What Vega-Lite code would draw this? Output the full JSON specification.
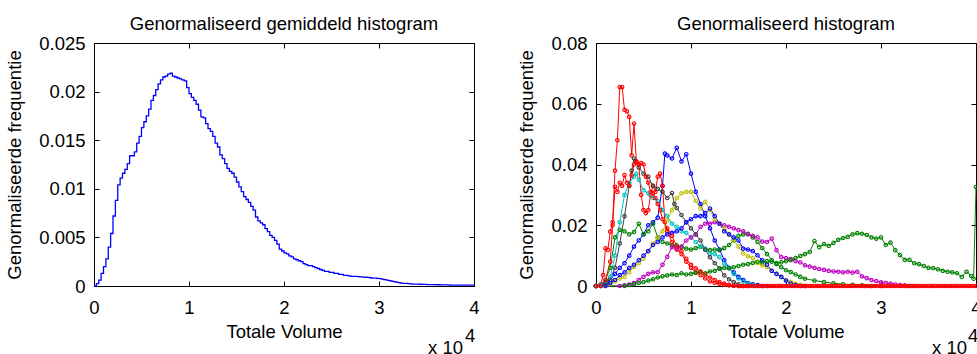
{
"$schema": "https://vega.github.io/schema/vega-lite/v6.json",
"background": "white",
"padding": {"left": 5, "top": 14, "right": 0, "bottom": 0},
"spacing": 37,
"config": {
  "font": "Liberation Sans",
  "view": {"stroke": null},
  "axis": {"labelFont": "Liberation Sans", "labelFontSize": 18.5, "labelColor": "black", "titleFont": "Liberation Sans", "titleFontSize": 18.5, "titleFontWeight": "normal", "titleColor": "black", "domainColor": "black", "domainWidth": 1, "tickColor": "black", "tickWidth": 1, "tickSize": -5, "grid": false, "labelOverlap": false, "labelFlush": false},
  "axisX": {"labelPadding": 17, "titlePadding": 6},
  "axisY": {"labelPadding": 14, "titlePadding": 14},
  "title": {"font": "Liberation Sans", "fontSize": 18.5, "fontWeight": "normal", "color": "black", "offset": 1},
  "text": {"font": "Liberation Sans", "fontSize": 18.5, "color": "black"}
},
"datasets": {
"avg": [
{"x":0,"y":0},{"x":0.025,"y":0.00024},{"x":0.05,"y":0.0006},{"x":0.075,"y":0.0013},{"x":0.1,"y":0.002},{"x":0.125,"y":0.0028},{"x":0.15,"y":0.004},{"x":0.175,"y":0.0054},{"x":0.2,"y":0.0072},{"x":0.225,"y":0.0088},
{"x":0.25,"y":0.0104},{"x":0.275,"y":0.0111},{"x":0.3,"y":0.0116},{"x":0.325,"y":0.012},{"x":0.35,"y":0.0126},{"x":0.375,"y":0.0134},{"x":0.4,"y":0.0134},{"x":0.425,"y":0.0138},{"x":0.45,"y":0.0147},{"x":0.475,"y":0.0154},
{"x":0.5,"y":0.0163},{"x":0.525,"y":0.0169},{"x":0.55,"y":0.0175},{"x":0.575,"y":0.0182},{"x":0.6,"y":0.0191},{"x":0.625,"y":0.0196},{"x":0.65,"y":0.0202},{"x":0.675,"y":0.0208},{"x":0.7,"y":0.0212},{"x":0.725,"y":0.0215},
{"x":0.75,"y":0.0216},{"x":0.775,"y":0.0218},{"x":0.8,"y":0.0219},{"x":0.825,"y":0.0216},{"x":0.85,"y":0.0215},{"x":0.875,"y":0.0214},{"x":0.9,"y":0.0213},{"x":0.925,"y":0.0212},{"x":0.95,"y":0.0211},{"x":0.975,"y":0.0204},
{"x":1.0,"y":0.0198},{"x":1.025,"y":0.0194},{"x":1.05,"y":0.0191},{"x":1.075,"y":0.0187},{"x":1.1,"y":0.0181},{"x":1.125,"y":0.0174},{"x":1.15,"y":0.0173},{"x":1.175,"y":0.0167},{"x":1.2,"y":0.0162},{"x":1.225,"y":0.0159},
{"x":1.25,"y":0.0154},{"x":1.275,"y":0.0147},{"x":1.3,"y":0.0143},{"x":1.325,"y":0.0135},{"x":1.35,"y":0.0131},{"x":1.375,"y":0.0126},{"x":1.4,"y":0.0121},{"x":1.425,"y":0.0118},{"x":1.45,"y":0.0116},{"x":1.475,"y":0.0112},
{"x":1.5,"y":0.0107},{"x":1.525,"y":0.0102},{"x":1.55,"y":0.0097},{"x":1.575,"y":0.0092},{"x":1.6,"y":0.0089},{"x":1.625,"y":0.0086},{"x":1.65,"y":0.0082},{"x":1.675,"y":0.0078},{"x":1.7,"y":0.0071},{"x":1.725,"y":0.0067},
{"x":1.75,"y":0.0065},{"x":1.775,"y":0.0063},{"x":1.8,"y":0.0059},{"x":1.825,"y":0.0056},{"x":1.85,"y":0.0052},{"x":1.875,"y":0.005},{"x":1.9,"y":0.0047},{"x":1.925,"y":0.0043},{"x":1.95,"y":0.0038},{"x":1.975,"y":0.0036},
{"x":2.0,"y":0.0034},{"x":2.025,"y":0.0033},{"x":2.05,"y":0.0031},{"x":2.075,"y":0.003},{"x":2.1,"y":0.0028},{"x":2.125,"y":0.0027},{"x":2.15,"y":0.0026},{"x":2.175,"y":0.0025},{"x":2.2,"y":0.0023},{"x":2.225,"y":0.0022},
{"x":2.25,"y":0.0021},{"x":2.275,"y":0.0021},{"x":2.3,"y":0.002},{"x":2.325,"y":0.0019},{"x":2.35,"y":0.0018},{"x":2.375,"y":0.0017},{"x":2.4,"y":0.0016},{"x":2.425,"y":0.0015},{"x":2.45,"y":0.0015},{"x":2.475,"y":0.0014},
{"x":2.5,"y":0.0014},{"x":2.525,"y":0.0013},{"x":2.55,"y":0.0013},{"x":2.575,"y":0.0012},{"x":2.6,"y":0.0012},{"x":2.625,"y":0.0011},{"x":2.65,"y":0.0011},{"x":2.675,"y":0.00105},{"x":2.7,"y":0.001},{"x":2.725,"y":0.001},
{"x":2.75,"y":0.00098},{"x":2.775,"y":0.00096},{"x":2.8,"y":0.00094},{"x":2.825,"y":0.00092},{"x":2.85,"y":0.0009},{"x":2.875,"y":0.00088},{"x":2.9,"y":0.00085},{"x":2.925,"y":0.00082},{"x":2.95,"y":0.0008},{"x":2.975,"y":0.00078},
{"x":3.0,"y":0.00076},{"x":3.025,"y":0.0007},{"x":3.05,"y":0.00065},{"x":3.075,"y":0.0006},{"x":3.1,"y":0.00055},{"x":3.125,"y":0.0005},{"x":3.15,"y":0.00045},{"x":3.175,"y":0.0004},{"x":3.2,"y":0.00035},{"x":3.225,"y":0.0003},
{"x":3.25,"y":0.00028},{"x":3.275,"y":0.00026},{"x":3.3,"y":0.00024},{"x":3.325,"y":0.00022},{"x":3.35,"y":0.0002},{"x":3.375,"y":0.0002},{"x":3.4,"y":0.00019},{"x":3.425,"y":0.00018},{"x":3.45,"y":0.00017},{"x":3.475,"y":0.00016},
{"x":3.5,"y":0.00015},{"x":3.55,"y":0.00014},{"x":3.6,"y":0.00013},{"x":3.65,"y":0.00012},{"x":3.7,"y":0.00011},{"x":3.75,"y":0.0001},{"x":3.8,"y":0.00009},{"x":3.85,"y":0.00009},{"x":3.9,"y":0.00008},{"x":3.95,"y":0.00008},{"x":4.0,"y":0.00007}
],
"ind": [
{"s":"b1","x":0,"y":0},{"s":"b1","x":0.05,"y":0},{"s":"b1","x":0.1,"y":0.001},{"s":"b1","x":0.15,"y":0.002},{"s":"b1","x":0.2,"y":0.004},{"s":"b1","x":0.25,"y":0.006},{"s":"b1","x":0.3,"y":0.0075},{"s":"b1","x":0.35,"y":0.01},{"s":"b1","x":0.4,"y":0.013},{"s":"b1","x":0.45,"y":0.015},
{"s":"b1","x":0.5,"y":0.017},{"s":"b1","x":0.55,"y":0.02},{"s":"b1","x":0.6,"y":0.021},{"s":"b1","x":0.65,"y":0.0225},{"s":"b1","x":0.7,"y":0.033},{"s":"b1","x":0.725,"y":0.0436},{"s":"b1","x":0.75,"y":0.043},{"s":"b1","x":0.8,"y":0.042},{"s":"b1","x":0.85,"y":0.0455},{"s":"b1","x":0.9,"y":0.041},
{"s":"b1","x":0.95,"y":0.0434},{"s":"b1","x":1.0,"y":0.037},{"s":"b1","x":1.05,"y":0.031},{"s":"b1","x":1.1,"y":0.027},{"s":"b1","x":1.15,"y":0.023},{"s":"b1","x":1.2,"y":0.019},{"s":"b1","x":1.25,"y":0.015},{"s":"b1","x":1.3,"y":0.012},{"s":"b1","x":1.35,"y":0.0085},{"s":"b1","x":1.4,"y":0.006},
{"s":"b1","x":1.45,"y":0.0045},{"s":"b1","x":1.5,"y":0.003},{"s":"b1","x":1.55,"y":0.002},{"s":"b1","x":1.6,"y":0.001},{"s":"b1","x":1.65,"y":0.0006},{"s":"b1","x":1.7,"y":0.0003},{"s":"b1","x":1.75,"y":0},{"s":"b1","x":1.8,"y":0},

{"s":"g1","x":0,"y":0},{"s":"g1","x":0.05,"y":0.0005},{"s":"g1","x":0.1,"y":0.002},{"s":"g1","x":0.15,"y":0.006},{"s":"g1","x":0.2,"y":0.016},{"s":"g1","x":0.25,"y":0.0185},{"s":"g1","x":0.3,"y":0.018},{"s":"g1","x":0.35,"y":0.017},{"s":"g1","x":0.4,"y":0.0178},{"s":"g1","x":0.45,"y":0.0205},
{"s":"g1","x":0.5,"y":0.017},{"s":"g1","x":0.55,"y":0.018},{"s":"g1","x":0.6,"y":0.0205},{"s":"g1","x":0.65,"y":0.016},{"s":"g1","x":0.7,"y":0.0145},{"s":"g1","x":0.75,"y":0.014},{"s":"g1","x":0.8,"y":0.0135},{"s":"g1","x":0.85,"y":0.0134},{"s":"g1","x":0.9,"y":0.0128},{"s":"g1","x":0.95,"y":0.0123},
{"s":"g1","x":1.0,"y":0.012},{"s":"g1","x":1.05,"y":0.0125},{"s":"g1","x":1.1,"y":0.0129},{"s":"g1","x":1.15,"y":0.012},{"s":"g1","x":1.2,"y":0.0118},{"s":"g1","x":1.25,"y":0.012},{"s":"g1","x":1.3,"y":0.0118},{"s":"g1","x":1.35,"y":0.0125},{"s":"g1","x":1.4,"y":0.0135},{"s":"g1","x":1.45,"y":0.015},
{"s":"g1","x":1.5,"y":0.0165},{"s":"g1","x":1.55,"y":0.017},{"s":"g1","x":1.6,"y":0.0172},{"s":"g1","x":1.65,"y":0.016},{"s":"g1","x":1.7,"y":0.0145},{"s":"g1","x":1.75,"y":0.0125},{"s":"g1","x":1.8,"y":0.0105},{"s":"g1","x":1.85,"y":0.0085},{"s":"g1","x":1.9,"y":0.0072},{"s":"g1","x":1.95,"y":0.0062},
{"s":"g1","x":2.0,"y":0.0052},{"s":"g1","x":2.05,"y":0.0046},{"s":"g1","x":2.1,"y":0.0038},{"s":"g1","x":2.15,"y":0.003},{"s":"g1","x":2.2,"y":0.0024},{"s":"g1","x":2.3,"y":0.0018},{"s":"g1","x":2.4,"y":0.0013},{"s":"g1","x":2.5,"y":0.0009},{"s":"g1","x":2.6,"y":0.0006},{"s":"g1","x":2.7,"y":0.0004},
{"s":"g1","x":2.8,"y":0.0002},{"s":"g1","x":2.9,"y":0},{"s":"g1","x":3.0,"y":0},

{"s":"r1","x":0,"y":0},{"s":"r1","x":0.05,"y":0.0005},{"s":"r1","x":0.075,"y":0.0036},{"s":"r1","x":0.1,"y":0.0124},{"s":"r1","x":0.125,"y":0.0119},{"s":"r1","x":0.15,"y":0.0179},{"s":"r1","x":0.175,"y":0.021},{"s":"r1","x":0.2,"y":0.038},{"s":"r1","x":0.225,"y":0.048},{"s":"r1","x":0.25,"y":0.0655},
{"s":"r1","x":0.275,"y":0.0655},{"s":"r1","x":0.3,"y":0.058},{"s":"r1","x":0.325,"y":0.0575},{"s":"r1","x":0.35,"y":0.0557},{"s":"r1","x":0.375,"y":0.043},{"s":"r1","x":0.4,"y":0.0535},{"s":"r1","x":0.425,"y":0.041},{"s":"r1","x":0.45,"y":0.04},{"s":"r1","x":0.475,"y":0.03},{"s":"r1","x":0.5,"y":0.025},
{"s":"r1","x":0.525,"y":0.024},{"s":"r1","x":0.55,"y":0.025},{"s":"r1","x":0.575,"y":0.03},{"s":"r1","x":0.6,"y":0.033},{"s":"r1","x":0.625,"y":0.031},{"s":"r1","x":0.65,"y":0.036},{"s":"r1","x":0.675,"y":0.037},{"s":"r1","x":0.7,"y":0.033},{"s":"r1","x":0.725,"y":0.021},{"s":"r1","x":0.75,"y":0.018},
{"s":"r1","x":0.8,"y":0.0145},{"s":"r1","x":0.85,"y":0.012},{"s":"r1","x":0.9,"y":0.0105},{"s":"r1","x":0.95,"y":0.008},{"s":"r1","x":1.0,"y":0.006},{"s":"r1","x":1.05,"y":0.0045},{"s":"r1","x":1.1,"y":0.0036},{"s":"r1","x":1.15,"y":0.0025},{"s":"r1","x":1.2,"y":0.0015},{"s":"r1","x":1.25,"y":0.001},
{"s":"r1","x":1.3,"y":0.0007},{"s":"r1","x":1.35,"y":0.0004},{"s":"r1","x":1.4,"y":0.0002},{"s":"r1","x":1.45,"y":0},{"s":"r1","x":1.5,"y":0},

{"s":"c","x":0,"y":0},{"s":"c","x":0.05,"y":0.0003},{"s":"c","x":0.1,"y":0.0015},{"s":"c","x":0.15,"y":0.003},{"s":"c","x":0.2,"y":0.01},{"s":"c","x":0.25,"y":0.021},{"s":"c","x":0.3,"y":0.03},{"s":"c","x":0.35,"y":0.034},{"s":"c","x":0.4,"y":0.036},{"s":"c","x":0.425,"y":0.037},
{"s":"c","x":0.45,"y":0.035},{"s":"c","x":0.5,"y":0.0315},{"s":"c","x":0.55,"y":0.0305},{"s":"c","x":0.6,"y":0.029},{"s":"c","x":0.65,"y":0.028},{"s":"c","x":0.7,"y":0.025},{"s":"c","x":0.75,"y":0.023},{"s":"c","x":0.8,"y":0.0205},{"s":"c","x":0.85,"y":0.0195},{"s":"c","x":0.9,"y":0.018},
{"s":"c","x":0.95,"y":0.0175},{"s":"c","x":1.0,"y":0.016},{"s":"c","x":1.05,"y":0.0145},{"s":"c","x":1.1,"y":0.013},{"s":"c","x":1.15,"y":0.0123},{"s":"c","x":1.2,"y":0.0107},{"s":"c","x":1.25,"y":0.0105},{"s":"c","x":1.3,"y":0.0095},{"s":"c","x":1.35,"y":0.0074},{"s":"c","x":1.4,"y":0.006},
{"s":"c","x":1.45,"y":0.004},{"s":"c","x":1.5,"y":0.0025},{"s":"c","x":1.55,"y":0.0015},{"s":"c","x":1.6,"y":0.0008},{"s":"c","x":1.65,"y":0.0003},{"s":"c","x":1.7,"y":0},{"s":"c","x":1.75,"y":0},

{"s":"m","x":0,"y":0},{"s":"m","x":0.25,"y":0},{"s":"m","x":0.3,"y":0.0002},{"s":"m","x":0.35,"y":0.0005},{"s":"m","x":0.4,"y":0.001},{"s":"m","x":0.45,"y":0.002},{"s":"m","x":0.5,"y":0.003},{"s":"m","x":0.55,"y":0.004},{"s":"m","x":0.6,"y":0.0045},{"s":"m","x":0.65,"y":0.0046},
{"s":"m","x":0.7,"y":0.007},{"s":"m","x":0.75,"y":0.0096},{"s":"m","x":0.8,"y":0.0128},{"s":"m","x":0.85,"y":0.0123},{"s":"m","x":0.9,"y":0.013},{"s":"m","x":0.95,"y":0.015},{"s":"m","x":1.0,"y":0.016},{"s":"m","x":1.05,"y":0.017},{"s":"m","x":1.1,"y":0.0195},{"s":"m","x":1.15,"y":0.0205},
{"s":"m","x":1.2,"y":0.0205},{"s":"m","x":1.25,"y":0.021},{"s":"m","x":1.3,"y":0.0205},{"s":"m","x":1.35,"y":0.02},{"s":"m","x":1.4,"y":0.0195},{"s":"m","x":1.45,"y":0.019},{"s":"m","x":1.5,"y":0.0184},{"s":"m","x":1.55,"y":0.018},{"s":"m","x":1.6,"y":0.017},{"s":"m","x":1.65,"y":0.0165},
{"s":"m","x":1.7,"y":0.016},{"s":"m","x":1.75,"y":0.0146},{"s":"m","x":1.8,"y":0.0145},{"s":"m","x":1.85,"y":0.0156},{"s":"m","x":1.9,"y":0.0118},{"s":"m","x":1.95,"y":0.0095},{"s":"m","x":2.0,"y":0.0092},{"s":"m","x":2.05,"y":0.0089},{"s":"m","x":2.1,"y":0.0082},{"s":"m","x":2.15,"y":0.0078},
{"s":"m","x":2.2,"y":0.0068},{"s":"m","x":2.25,"y":0.0064},{"s":"m","x":2.3,"y":0.006},{"s":"m","x":2.35,"y":0.0056},{"s":"m","x":2.4,"y":0.0053},{"s":"m","x":2.45,"y":0.005},{"s":"m","x":2.5,"y":0.0048},{"s":"m","x":2.55,"y":0.0047},{"s":"m","x":2.6,"y":0.0045},{"s":"m","x":2.65,"y":0.0047},
{"s":"m","x":2.7,"y":0.0044},{"s":"m","x":2.75,"y":0.0047},{"s":"m","x":2.8,"y":0.0032},{"s":"m","x":2.85,"y":0.0026},{"s":"m","x":2.9,"y":0.002},{"s":"m","x":2.95,"y":0.0016},{"s":"m","x":3.0,"y":0.0012},{"s":"m","x":3.05,"y":0.001},{"s":"m","x":3.1,"y":0.0008},{"s":"m","x":3.15,"y":0.0005},
{"s":"m","x":3.2,"y":0.0003},{"s":"m","x":3.25,"y":0.0002},{"s":"m","x":3.3,"y":0},{"s":"m","x":3.35,"y":0},

{"s":"y","x":0,"y":0},{"s":"y","x":0.1,"y":0},{"s":"y","x":0.15,"y":0.0008},{"s":"y","x":0.2,"y":0.0015},{"s":"y","x":0.25,"y":0.0025},{"s":"y","x":0.3,"y":0.003},{"s":"y","x":0.35,"y":0.0045},{"s":"y","x":0.4,"y":0.0063},{"s":"y","x":0.45,"y":0.0075},{"s":"y","x":0.5,"y":0.009},
{"s":"y","x":0.55,"y":0.0115},{"s":"y","x":0.6,"y":0.014},{"s":"y","x":0.65,"y":0.016},{"s":"y","x":0.7,"y":0.018},{"s":"y","x":0.75,"y":0.0216},{"s":"y","x":0.8,"y":0.025},{"s":"y","x":0.85,"y":0.029},{"s":"y","x":0.9,"y":0.0305},{"s":"y","x":0.95,"y":0.031},{"s":"y","x":1.0,"y":0.031},
{"s":"y","x":1.05,"y":0.028},{"s":"y","x":1.1,"y":0.0255},{"s":"y","x":1.15,"y":0.0277},{"s":"y","x":1.2,"y":0.025},{"s":"y","x":1.25,"y":0.022},{"s":"y","x":1.3,"y":0.0205},{"s":"y","x":1.35,"y":0.019},{"s":"y","x":1.4,"y":0.017},{"s":"y","x":1.45,"y":0.015},{"s":"y","x":1.5,"y":0.013},
{"s":"y","x":1.55,"y":0.0107},{"s":"y","x":1.6,"y":0.0098},{"s":"y","x":1.65,"y":0.0092},{"s":"y","x":1.7,"y":0.0075},{"s":"y","x":1.75,"y":0.0068},{"s":"y","x":1.8,"y":0.0063},{"s":"y","x":1.85,"y":0.005},{"s":"y","x":1.9,"y":0.004},{"s":"y","x":1.95,"y":0.003},{"s":"y","x":2.0,"y":0.0019},
{"s":"y","x":2.05,"y":0.0014},{"s":"y","x":2.1,"y":0.0008},{"s":"y","x":2.15,"y":0.0004},{"s":"y","x":2.2,"y":0},{"s":"y","x":2.25,"y":0},

{"s":"k","x":0,"y":0},{"s":"k","x":0.05,"y":0},{"s":"k","x":0.1,"y":0.0013},{"s":"k","x":0.15,"y":0.002},{"s":"k","x":0.2,"y":0.006},{"s":"k","x":0.25,"y":0.014},{"s":"k","x":0.3,"y":0.023},{"s":"k","x":0.35,"y":0.033},{"s":"k","x":0.375,"y":0.038},{"s":"k","x":0.4,"y":0.042},
{"s":"k","x":0.45,"y":0.039},{"s":"k","x":0.5,"y":0.037},{"s":"k","x":0.55,"y":0.036},{"s":"k","x":0.6,"y":0.033},{"s":"k","x":0.65,"y":0.032},{"s":"k","x":0.7,"y":0.031},{"s":"k","x":0.75,"y":0.029},{"s":"k","x":0.8,"y":0.0306},{"s":"k","x":0.825,"y":0.027},{"s":"k","x":0.85,"y":0.0257},
{"s":"k","x":0.9,"y":0.0234},{"s":"k","x":0.95,"y":0.021},{"s":"k","x":1.0,"y":0.019},{"s":"k","x":1.05,"y":0.017},{"s":"k","x":1.1,"y":0.015},{"s":"k","x":1.15,"y":0.012},{"s":"k","x":1.2,"y":0.0095},{"s":"k","x":1.25,"y":0.0075},{"s":"k","x":1.3,"y":0.0058},{"s":"k","x":1.35,"y":0.0035},
{"s":"k","x":1.4,"y":0.0022},{"s":"k","x":1.45,"y":0.0013},{"s":"k","x":1.5,"y":0.0006},{"s":"k","x":1.55,"y":0},{"s":"k","x":1.6,"y":0},

{"s":"b2","x":0,"y":0},{"s":"b2","x":0.1,"y":0},{"s":"b2","x":0.15,"y":0.001},{"s":"b2","x":0.2,"y":0.002},{"s":"b2","x":0.25,"y":0.0036},{"s":"b2","x":0.3,"y":0.0045},{"s":"b2","x":0.35,"y":0.006},{"s":"b2","x":0.4,"y":0.007},{"s":"b2","x":0.45,"y":0.0085},{"s":"b2","x":0.5,"y":0.01},
{"s":"b2","x":0.55,"y":0.0115},{"s":"b2","x":0.6,"y":0.0135},{"s":"b2","x":0.65,"y":0.0145},{"s":"b2","x":0.7,"y":0.016},{"s":"b2","x":0.75,"y":0.017},{"s":"b2","x":0.8,"y":0.0175},{"s":"b2","x":0.85,"y":0.018},{"s":"b2","x":0.9,"y":0.019},{"s":"b2","x":0.95,"y":0.021},{"s":"b2","x":1.0,"y":0.022},
{"s":"b2","x":1.05,"y":0.023},{"s":"b2","x":1.1,"y":0.023},{"s":"b2","x":1.15,"y":0.024},{"s":"b2","x":1.2,"y":0.0255},{"s":"b2","x":1.25,"y":0.023},{"s":"b2","x":1.3,"y":0.0205},{"s":"b2","x":1.35,"y":0.018},{"s":"b2","x":1.4,"y":0.017},{"s":"b2","x":1.45,"y":0.016},{"s":"b2","x":1.5,"y":0.015},
{"s":"b2","x":1.55,"y":0.0123},{"s":"b2","x":1.6,"y":0.012},{"s":"b2","x":1.65,"y":0.0115},{"s":"b2","x":1.7,"y":0.0101},{"s":"b2","x":1.75,"y":0.0085},{"s":"b2","x":1.8,"y":0.007},{"s":"b2","x":1.85,"y":0.005},{"s":"b2","x":1.9,"y":0.004},{"s":"b2","x":1.95,"y":0.003},{"s":"b2","x":2.0,"y":0.0018},
{"s":"b2","x":2.05,"y":0.0008},{"s":"b2","x":2.1,"y":0.0003},{"s":"b2","x":2.15,"y":0},{"s":"b2","x":2.2,"y":0},

{"s":"g2","x":0,"y":0},{"s":"g2","x":0.3,"y":0},{"s":"g2","x":0.35,"y":0.0003},{"s":"g2","x":0.4,"y":0.0006},{"s":"g2","x":0.45,"y":0.001},{"s":"g2","x":0.5,"y":0.0013},{"s":"g2","x":0.55,"y":0.0018},{"s":"g2","x":0.6,"y":0.0022},{"s":"g2","x":0.65,"y":0.0028},{"s":"g2","x":0.7,"y":0.0032},
{"s":"g2","x":0.75,"y":0.0035},{"s":"g2","x":0.8,"y":0.0038},{"s":"g2","x":0.85,"y":0.0036},{"s":"g2","x":0.9,"y":0.0042},{"s":"g2","x":0.95,"y":0.0038},{"s":"g2","x":1.0,"y":0.004},{"s":"g2","x":1.05,"y":0.0043},{"s":"g2","x":1.1,"y":0.0046},{"s":"g2","x":1.15,"y":0.0042},{"s":"g2","x":1.2,"y":0.0048},
{"s":"g2","x":1.25,"y":0.005},{"s":"g2","x":1.3,"y":0.0057},{"s":"g2","x":1.35,"y":0.006},{"s":"g2","x":1.4,"y":0.0058},{"s":"g2","x":1.45,"y":0.0062},{"s":"g2","x":1.5,"y":0.0066},{"s":"g2","x":1.55,"y":0.007},{"s":"g2","x":1.6,"y":0.0072},{"s":"g2","x":1.65,"y":0.0076},{"s":"g2","x":1.7,"y":0.008},
{"s":"g2","x":1.75,"y":0.0078},{"s":"g2","x":1.8,"y":0.0082},{"s":"g2","x":1.85,"y":0.008},{"s":"g2","x":1.9,"y":0.0076},{"s":"g2","x":1.95,"y":0.0078},{"s":"g2","x":2.0,"y":0.0082},{"s":"g2","x":2.05,"y":0.0085},{"s":"g2","x":2.1,"y":0.0092},{"s":"g2","x":2.15,"y":0.0099},{"s":"g2","x":2.2,"y":0.0105},
{"s":"g2","x":2.25,"y":0.0112},{"s":"g2","x":2.3,"y":0.0148},{"s":"g2","x":2.35,"y":0.0128},{"s":"g2","x":2.4,"y":0.0138},{"s":"g2","x":2.45,"y":0.0132},{"s":"g2","x":2.5,"y":0.0142},{"s":"g2","x":2.55,"y":0.0152},{"s":"g2","x":2.6,"y":0.0158},{"s":"g2","x":2.65,"y":0.0162},{"s":"g2","x":2.7,"y":0.017},
{"s":"g2","x":2.75,"y":0.0174},{"s":"g2","x":2.8,"y":0.0172},{"s":"g2","x":2.85,"y":0.0168},{"s":"g2","x":2.9,"y":0.016},{"s":"g2","x":2.95,"y":0.0156},{"s":"g2","x":3.0,"y":0.016},{"s":"g2","x":3.05,"y":0.0135},{"s":"g2","x":3.1,"y":0.0143},{"s":"g2","x":3.15,"y":0.0118},{"s":"g2","x":3.2,"y":0.0102},
{"s":"g2","x":3.25,"y":0.0086},{"s":"g2","x":3.3,"y":0.0086},{"s":"g2","x":3.35,"y":0.0075},{"s":"g2","x":3.4,"y":0.0072},{"s":"g2","x":3.45,"y":0.0066},{"s":"g2","x":3.5,"y":0.006},{"s":"g2","x":3.55,"y":0.0059},{"s":"g2","x":3.6,"y":0.0055},{"s":"g2","x":3.65,"y":0.005},{"s":"g2","x":3.7,"y":0.0047},
{"s":"g2","x":3.75,"y":0.0045},{"s":"g2","x":3.8,"y":0.0042},{"s":"g2","x":3.85,"y":0.003},{"s":"g2","x":3.9,"y":0.0047},{"s":"g2","x":3.95,"y":0.0033},{"s":"g2","x":3.975,"y":0.0024},{"s":"g2","x":4.0,"y":0.0326},

{"s":"r2","x":0,"y":0},{"s":"r2","x":0.05,"y":0},{"s":"r2","x":0.1,"y":0.002},{"s":"r2","x":0.15,"y":0.008},{"s":"r2","x":0.175,"y":0.02},{"s":"r2","x":0.2,"y":0.0327},{"s":"r2","x":0.225,"y":0.031},{"s":"r2","x":0.25,"y":0.034},{"s":"r2","x":0.275,"y":0.033},{"s":"r2","x":0.3,"y":0.0365},
{"s":"r2","x":0.325,"y":0.034},{"s":"r2","x":0.35,"y":0.033},{"s":"r2","x":0.375,"y":0.0365},{"s":"r2","x":0.4,"y":0.04},{"s":"r2","x":0.425,"y":0.041},{"s":"r2","x":0.45,"y":0.04},{"s":"r2","x":0.475,"y":0.0405},{"s":"r2","x":0.5,"y":0.04},{"s":"r2","x":0.525,"y":0.036},{"s":"r2","x":0.55,"y":0.034},
{"s":"r2","x":0.575,"y":0.031},{"s":"r2","x":0.6,"y":0.0305},{"s":"r2","x":0.625,"y":0.029},{"s":"r2","x":0.65,"y":0.027},{"s":"r2","x":0.675,"y":0.025},{"s":"r2","x":0.7,"y":0.022},{"s":"r2","x":0.75,"y":0.019},{"s":"r2","x":0.8,"y":0.0165},{"s":"r2","x":0.85,"y":0.013},{"s":"r2","x":0.9,"y":0.0115},
{"s":"r2","x":0.95,"y":0.009},{"s":"r2","x":1.0,"y":0.007},{"s":"r2","x":1.05,"y":0.0058},{"s":"r2","x":1.1,"y":0.0048},{"s":"r2","x":1.15,"y":0.0038},{"s":"r2","x":1.2,"y":0.0028},{"s":"r2","x":1.25,"y":0.002},{"s":"r2","x":1.3,"y":0.0013},{"s":"r2","x":1.35,"y":0.0008},{"s":"r2","x":1.4,"y":0.0004},
{"s":"r2","x":1.45,"y":0.0001},{"s":"r2","x":1.5,"y":0},{"s":"r2","x":1.525,"y":0},{"s":"r2","x":1.55,"y":0},{"s":"r2","x":1.575,"y":0},{"s":"r2","x":1.6,"y":0},{"s":"r2","x":1.625,"y":0},{"s":"r2","x":1.65,"y":0},{"s":"r2","x":1.675,"y":0},{"s":"r2","x":1.7,"y":0},
{"s":"r2","x":1.725,"y":0},{"s":"r2","x":1.75,"y":0},{"s":"r2","x":1.775,"y":0},{"s":"r2","x":1.8,"y":0},{"s":"r2","x":1.825,"y":0},{"s":"r2","x":1.85,"y":0},{"s":"r2","x":1.875,"y":0},{"s":"r2","x":1.9,"y":0},{"s":"r2","x":1.925,"y":0},{"s":"r2","x":1.95,"y":0},
{"s":"r2","x":1.975,"y":0},{"s":"r2","x":2.0,"y":0},{"s":"r2","x":2.025,"y":0},{"s":"r2","x":2.05,"y":0},{"s":"r2","x":2.075,"y":0},{"s":"r2","x":2.1,"y":0},{"s":"r2","x":2.125,"y":0},{"s":"r2","x":2.15,"y":0},{"s":"r2","x":2.175,"y":0},{"s":"r2","x":2.2,"y":0},
{"s":"r2","x":2.225,"y":0},{"s":"r2","x":2.25,"y":0},{"s":"r2","x":2.275,"y":0},{"s":"r2","x":2.3,"y":0},{"s":"r2","x":2.325,"y":0},{"s":"r2","x":2.35,"y":0},{"s":"r2","x":2.375,"y":0},{"s":"r2","x":2.4,"y":0},{"s":"r2","x":2.425,"y":0},{"s":"r2","x":2.45,"y":0},
{"s":"r2","x":2.475,"y":0},{"s":"r2","x":2.5,"y":0},{"s":"r2","x":2.525,"y":0},{"s":"r2","x":2.55,"y":0},{"s":"r2","x":2.575,"y":0},{"s":"r2","x":2.6,"y":0},{"s":"r2","x":2.625,"y":0},{"s":"r2","x":2.65,"y":0},{"s":"r2","x":2.675,"y":0},{"s":"r2","x":2.7,"y":0},
{"s":"r2","x":2.725,"y":0},{"s":"r2","x":2.75,"y":0},{"s":"r2","x":2.775,"y":0},{"s":"r2","x":2.8,"y":0},{"s":"r2","x":2.825,"y":0},{"s":"r2","x":2.85,"y":0},{"s":"r2","x":2.875,"y":0},{"s":"r2","x":2.9,"y":0},{"s":"r2","x":2.925,"y":0},{"s":"r2","x":2.95,"y":0},
{"s":"r2","x":2.975,"y":0},{"s":"r2","x":3.0,"y":0},{"s":"r2","x":3.025,"y":0},{"s":"r2","x":3.05,"y":0},{"s":"r2","x":3.075,"y":0},{"s":"r2","x":3.1,"y":0},{"s":"r2","x":3.125,"y":0},{"s":"r2","x":3.15,"y":0},{"s":"r2","x":3.175,"y":0},{"s":"r2","x":3.2,"y":0},
{"s":"r2","x":3.225,"y":0},{"s":"r2","x":3.25,"y":0},{"s":"r2","x":3.275,"y":0},{"s":"r2","x":3.3,"y":0},{"s":"r2","x":3.325,"y":0},{"s":"r2","x":3.35,"y":0},{"s":"r2","x":3.375,"y":0},{"s":"r2","x":3.4,"y":0},{"s":"r2","x":3.425,"y":0},{"s":"r2","x":3.45,"y":0},
{"s":"r2","x":3.475,"y":0},{"s":"r2","x":3.5,"y":0},{"s":"r2","x":3.525,"y":0},{"s":"r2","x":3.55,"y":0},{"s":"r2","x":3.575,"y":0},{"s":"r2","x":3.6,"y":0},{"s":"r2","x":3.625,"y":0},{"s":"r2","x":3.65,"y":0},{"s":"r2","x":3.675,"y":0},{"s":"r2","x":3.7,"y":0},
{"s":"r2","x":3.725,"y":0},{"s":"r2","x":3.75,"y":0},{"s":"r2","x":3.775,"y":0},{"s":"r2","x":3.8,"y":0},{"s":"r2","x":3.825,"y":0},{"s":"r2","x":3.85,"y":0},{"s":"r2","x":3.875,"y":0},{"s":"r2","x":3.9,"y":0},{"s":"r2","x":3.925,"y":0},{"s":"r2","x":3.95,"y":0},
{"s":"r2","x":3.975,"y":0},{"s":"r2","x":4.0,"y":0}
]
},
"hconcat": [
{
  "width": 380, "height": 243,
  "title": {"text": "Genormaliseerd gemiddeld histogram"},
  "layer": [
    {"data": {"name": "avg"},
     "mark": {"type": "line", "interpolate": "step-after", "color": "#0000ff", "strokeWidth": 1.3},
     "encoding": {
       "x": {"field": "x", "type": "quantitative", "scale": {"domain": [0, 4], "nice": false}, "axis": {"values": [0,1,2,3,4], "format": "d", "title": "Totale Volume"}},
       "y": {"field": "y", "type": "quantitative", "scale": {"domain": [0, 0.025], "nice": false}, "axis": {"values": [0,0.005,0.01,0.015,0.02,0.025], "format": "~g", "title": "Genormaliseerde frequentie"}}
     }},
    {"data": {"name": "avg"},
     "mark": {"type": "line", "opacity": 0},
     "encoding": {
       "x": {"field": "x", "type": "quantitative", "axis": {"orient": "top", "values": [0,1,2,3,4], "labels": false, "title": null}},
       "y": {"field": "y", "type": "quantitative", "axis": {"orient": "right", "values": [0,0.005,0.01,0.015,0.02,0.025], "labels": false, "title": null}}
     }},
    {"data": {"values": [{}]},
     "mark": {"type": "text", "align": "right", "baseline": "alphabetic", "dx": -11, "dy": 68},
     "encoding": {"x": {"datum": 4, "type": "quantitative", "axis": null}, "y": {"datum": 0, "type": "quantitative", "axis": null}, "text": {"value": "x 10"}}},
    {"data": {"values": [{}]},
     "mark": {"type": "text", "align": "left", "baseline": "alphabetic", "dx": -9, "dy": 56},
     "encoding": {"x": {"datum": 4, "type": "quantitative", "axis": null}, "y": {"datum": 0, "type": "quantitative", "axis": null}, "text": {"value": "4"}}}
  ],
  "resolve": {"axis": {"x": "independent", "y": "independent"}}
},
{
  "width": 380, "height": 243,
  "title": {"text": "Genormaliseerd histogram"},
  "layer": [
    {"data": {"name": "ind"},
     "mark": {"type": "line", "strokeWidth": 1},
     "encoding": {
       "x": {"field": "x", "type": "quantitative", "scale": {"domain": [0, 4], "nice": false}, "axis": {"values": [0,1,2,3,4], "format": "d", "title": "Totale Volume"}},
       "y": {"field": "y", "type": "quantitative", "scale": {"domain": [0, 0.08], "nice": false}, "axis": {"values": [0,0.02,0.04,0.06,0.08], "format": "~g", "title": "Genormaliseerde frequentie"}},
       "color": {"field": "s", "type": "nominal", "legend": null, "scale": {"domain": ["b1","g1","r1","c","m","y","k","b2","g2","r2"], "range": ["#0000ff","#008000","#ff0000","#00bfbf","#bf00bf","#bfbf00","#404040","#0000ff","#008000","#ff0000"]}}
     }},
    {"data": {"name": "ind"},
     "mark": {"type": "point", "filled": false, "size": 12, "strokeWidth": 1.1, "opacity": 1},
     "encoding": {
       "x": {"field": "x", "type": "quantitative", "axis": null},
       "y": {"field": "y", "type": "quantitative", "axis": null},
       "color": {"field": "s", "type": "nominal", "legend": null}
     }},
    {"data": {"name": "ind"},
     "mark": {"type": "line", "opacity": 0},
     "encoding": {
       "x": {"field": "x", "type": "quantitative", "axis": {"orient": "top", "values": [0,1,2,3,4], "labels": false, "title": null}},
       "y": {"field": "y", "type": "quantitative", "axis": {"orient": "right", "values": [0,0.02,0.04,0.06,0.08], "labels": false, "title": null}}
     }},
    {"data": {"values": [{}]},
     "mark": {"type": "text", "align": "right", "baseline": "alphabetic", "dx": -9, "dy": 68},
     "encoding": {"x": {"datum": 4, "type": "quantitative", "axis": null}, "y": {"datum": 0, "type": "quantitative", "axis": null}, "text": {"value": "x 10"}}},
    {"data": {"values": [{}]},
     "mark": {"type": "text", "align": "left", "baseline": "alphabetic", "dx": -8, "dy": 56},
     "encoding": {"x": {"datum": 4, "type": "quantitative", "axis": null}, "y": {"datum": 0, "type": "quantitative", "axis": null}, "text": {"value": "4"}}}
  ],
  "resolve": {"axis": {"x": "independent", "y": "independent"}}
}
]
}
